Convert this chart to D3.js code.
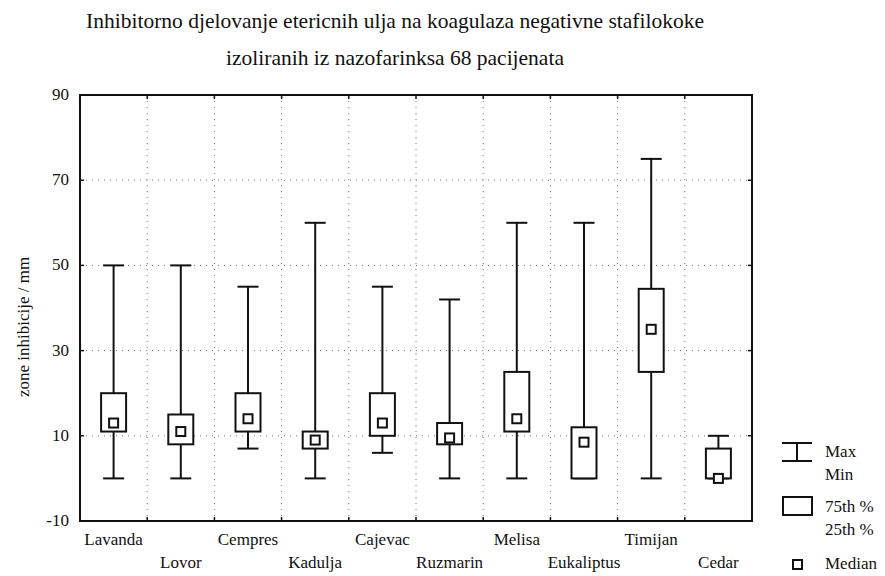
<!DOCTYPE html>
<html>
<head>
<meta charset="utf-8">
<script src="https://cdn.jsdelivr.net/npm/d3@7"></script>
<style>
  body { margin: 0; background: #fff; }
  svg text { font-family: "Liberation Serif", "DejaVu Serif", serif; fill: #111; }
</style>
</head>
<body>
<div id="app"></div>
<script>
// categories and the five statistics for each one (mm)
const categories = ['Lavanda', 'Lovor', 'Cempres', 'Kadulja', 'Cajevac', 'Ruzmarin', 'Melisa', 'Eukaliptus', 'Timijan', 'Cedar'];
const maxVals    = [50, 50, 45, 60, 45, 42, 60, 60, 75, 10];
const q3Vals     = [20, 15, 20, 11, 20, 13, 25, 12, 44.5, 7];
const medianVals = [13, 11, 14, 9, 13, 9.5, 14, 8.5, 35, 0];
const q1Vals     = [11, 8, 11, 7, 10, 8, 11, 0, 25, 0];
const minVals    = [0, 0, 7, 0, 6, 0, 0, 0, 0, 0];
const yTicks = [-10, 10, 30, 50, 70, 90];
const titleLines = ['Inhibitorno djelovanje etericnih ulja na koagulaza negativne stafilokoke',
                    'izoliranih iz nazofarinksa 68 pacijenata'];
const yLabel = 'zone inhibicije / mm';

const width = 885, height = 576;
const plotL = 80, plotR = 752, plotT = 95, plotB = 521;

const svg = d3.select('#app').append('svg').attr('width', width).attr('height', height);

const rows = categories.map((c, i) => ({
    name: c, max: maxVals[i], q3: q3Vals[i], med: medianVals[i], q1: q1Vals[i], min: minVals[i], i: i
}));

const x = d3.scaleBand().domain(categories).range([plotL, plotR]).padding(0);
const y = d3.scaleLinear().domain([-10, 90]).range([plotB, plotT]);

// dotted grid
const grid = svg.append('g').attr('stroke', '#777').attr('stroke-width', 1).attr('stroke-dasharray', '1,5');
grid.selectAll('.hg').data(yTicks.filter(v => v > -10 && v < 90))
    .enter().append('line')
    .attr('x1', plotL).attr('x2', plotR)
    .attr('y1', d => y(d)).attr('y2', d => y(d));
grid.selectAll('.vg').data(categories.slice(1))
    .enter().append('line')
    .attr('x1', d => x(d)).attr('x2', d => x(d))
    .attr('y1', plotT).attr('y2', plotB);

// inner ticks on all four sides
const ticks = svg.append('g').attr('stroke', '#111').attr('stroke-width', 1.5);
yTicks.forEach(v => {
    ticks.append('line').attr('x1', plotL).attr('x2', plotL + 4).attr('y1', y(v)).attr('y2', y(v));
    ticks.append('line').attr('x1', plotR).attr('x2', plotR - 4).attr('y1', y(v)).attr('y2', y(v));
});
categories.slice(1).forEach(c => {
    ticks.append('line').attr('x1', x(c)).attr('x2', x(c)).attr('y1', plotB).attr('y2', plotB - 4);
    ticks.append('line').attr('x1', x(c)).attr('x2', x(c)).attr('y1', plotT).attr('y2', plotT + 4);
});

// frame
svg.append('rect')
    .attr('x', plotL).attr('y', plotT)
    .attr('width', plotR - plotL).attr('height', plotB - plotT)
    .attr('fill', 'none').attr('stroke', '#111').attr('stroke-width', 2);

// y tick labels
svg.selectAll('.ytick').data(yTicks)
    .enter().append('text')
    .attr('x', 69).attr('y', d => y(d) + 5)
    .attr('text-anchor', 'end')
    .attr('font-size', 17)
    .text(d => d);

// x labels, alternated in two rows
svg.selectAll('.xlab').data(rows)
    .enter().append('text')
    .attr('x', d => x(d.name) + x.bandwidth() / 2)
    .attr('y', d => d.i % 2 === 0 ? 545 : 568)
    .attr('text-anchor', 'middle')
    .attr('font-size', 17)
    .text(d => d.name);

// boxes
const capW = 21, boxW = 25, medW = 9;
const g = svg.selectAll('.box').data(rows)
    .enter().append('g')
    .attr('transform', d => `translate(${x(d.name) + x.bandwidth() / 2},0)`);

g.append('line')
    .attr('x1', 0).attr('x2', 0)
    .attr('y1', d => y(d.max)).attr('y2', d => y(d.min))
    .attr('stroke', '#111').attr('stroke-width', 2);
g.append('line')
    .attr('x1', -capW / 2).attr('x2', capW / 2)
    .attr('y1', d => y(d.max)).attr('y2', d => y(d.max))
    .attr('stroke', '#111').attr('stroke-width', 2);
g.append('line')
    .attr('x1', -capW / 2).attr('x2', capW / 2)
    .attr('y1', d => y(d.min)).attr('y2', d => y(d.min))
    .attr('stroke', '#111').attr('stroke-width', 2);
g.append('rect')
    .attr('x', -boxW / 2).attr('width', boxW)
    .attr('y', d => y(d.q3)).attr('height', d => y(d.q1) - y(d.q3))
    .attr('fill', '#fff').attr('stroke', '#111').attr('stroke-width', 2);
g.append('rect')
    .attr('x', -medW / 2).attr('width', medW)
    .attr('y', d => y(d.med) - medW / 2).attr('height', medW)
    .attr('fill', '#fff').attr('stroke', '#111').attr('stroke-width', 2);

// title
svg.selectAll('.title').data(titleLines)
    .enter().append('text')
    .attr('x', 395).attr('y', (d, i) => i === 0 ? 28 : 65)
    .attr('text-anchor', 'middle')
    .attr('font-size', 21.5)
    .text(d => d);

// y axis label
svg.append('text')
    .attr('transform', 'translate(29,327) rotate(-90)')
    .attr('text-anchor', 'middle')
    .attr('font-size', 17)
    .text(yLabel);

// legend
const lg = svg.append('g').attr('stroke', '#111').attr('stroke-width', 2);
lg.append('line').attr('x1', 782).attr('x2', 812).attr('y1', 443).attr('y2', 443);
lg.append('line').attr('x1', 782).attr('x2', 812).attr('y1', 461).attr('y2', 461);
lg.append('line').attr('x1', 797).attr('x2', 797).attr('y1', 443).attr('y2', 461);
lg.append('rect').attr('x', 783).attr('y', 497).attr('width', 29).attr('height', 18).attr('fill', 'none');
lg.append('rect').attr('x', 793).attr('y', 560).attr('width', 9).attr('height', 9).attr('fill', 'none');

const legendText = [['Max', 457], ['Min', 480], ['75th %', 512], ['25th %', 535], ['Median', 569]];
svg.selectAll('.lt').data(legendText)
    .enter().append('text')
    .attr('x', 825).attr('y', d => d[1])
    .attr('font-size', 17)
    .text(d => d[0]);
</script>
</body>
</html>
